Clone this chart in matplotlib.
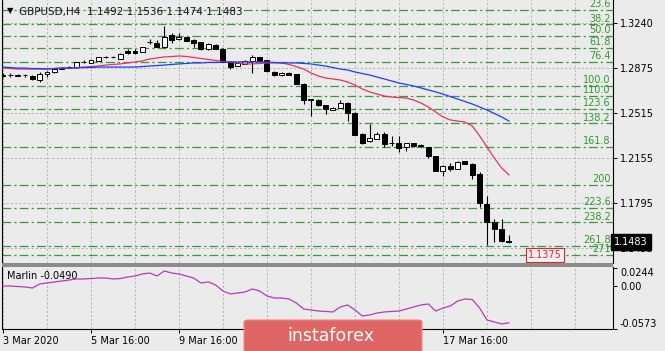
import matplotlib
matplotlib.use("Agg")
import matplotlib.pyplot as plt
from matplotlib.patches import Rectangle, FancyBboxPatch

# ---------------- data ----------------
opens = [1.2818, 1.2822, 1.2818, 1.2822, 1.2818, 1.2778, 1.2830, 1.2846, 1.2874, 1.2882,
         1.2886, 1.2923, 1.2919, 1.2935, 1.2967, 1.2964, 1.2951, 1.3015, 1.3015, 1.3007,
         1.3087, 1.3083, 1.3051, 1.3144, 1.3111, 1.3127, 1.3107, 1.3087, 1.3031, 1.3067,
         1.3035, 1.2927, 1.2898, 1.2911, 1.2931, 1.2963, 1.2939, 1.2850, 1.2826, 1.2842,
         1.2830, 1.2750, 1.2629, 1.2625, 1.2581, 1.2541, 1.2557, 1.2597, 1.2517, 1.2352,
         1.2292, 1.2308, 1.2352, 1.2276, 1.2272, 1.2240, 1.2272, 1.2256, 1.2240, 1.2171,
         1.2047, 1.2091, 1.2067, 1.2131, 1.2107, 1.2023, 1.1786, 1.1637, 1.1585, 1.1492]
highs = [1.2838, 1.2838, 1.2830, 1.2834, 1.2822, 1.2846, 1.2854, 1.2878, 1.2886, 1.2894,
         1.2927, 1.2939, 1.2943, 1.2967, 1.2971, 1.2971, 1.2995, 1.3035, 1.3031, 1.3051,
         1.3111, 1.3103, 1.3212, 1.3156, 1.3160, 1.3131, 1.3115, 1.3091, 1.3079, 1.3071,
         1.3039, 1.2931, 1.2927, 1.2939, 1.2983, 1.2967, 1.2943, 1.2854, 1.2850, 1.2846,
         1.2834, 1.2754, 1.2633, 1.2629, 1.2585, 1.2565, 1.2621, 1.2605, 1.2521, 1.2356,
         1.2428, 1.2364, 1.2364, 1.2332, 1.2332, 1.2276, 1.2276, 1.2264, 1.2244, 1.2175,
         1.2095, 1.2111, 1.2131, 1.2135, 1.2111, 1.2039, 1.1850, 1.1669, 1.1669, 1.1536]
lows = [1.2806, 1.2806, 1.2814, 1.2810, 1.2782, 1.2766, 1.2806, 1.2842, 1.2870, 1.2878,
        1.2878, 1.2915, 1.2915, 1.2931, 1.2959, 1.2959, 1.2947, 1.2991, 1.2991, 1.3003,
        1.3071, 1.3047, 1.3039, 1.3079, 1.3107, 1.3095, 1.3047, 1.3027, 1.3023, 1.3031,
        1.2923, 1.2870, 1.2894, 1.2907, 1.2838, 1.2923, 1.2846, 1.2814, 1.2818, 1.2822,
        1.2746, 1.2589, 1.2493, 1.2577, 1.2509, 1.2537, 1.2553, 1.2452, 1.2340, 1.2268,
        1.2284, 1.2304, 1.2244, 1.2252, 1.2203, 1.2215, 1.2244, 1.2244, 1.2159, 1.2047,
        1.2007, 1.2047, 1.2063, 1.2103, 1.1986, 1.1761, 1.1456, 1.1484, 1.1478, 1.1474]
closes = [1.2826, 1.2823, 1.2826, 1.2821, 1.2786, 1.2834, 1.2850, 1.2874, 1.2878, 1.2886,
          1.2923, 1.2927, 1.2939, 1.2963, 1.2964, 1.2967, 1.2991, 1.2999, 1.2999, 1.3047,
          1.3085, 1.3051, 1.3127, 1.3103, 1.3131, 1.3099, 1.3083, 1.3031, 1.3075, 1.3035,
          1.2927, 1.2890, 1.2919, 1.2935, 1.2967, 1.2931, 1.2854, 1.2822, 1.2842, 1.2826,
          1.2750, 1.2625, 1.2625, 1.2581, 1.2545, 1.2557, 1.2597, 1.2517, 1.2344, 1.2272,
          1.2316, 1.2352, 1.2268, 1.2272, 1.2236, 1.2272, 1.2248, 1.2252, 1.2175, 1.2051,
          1.2091, 1.2067, 1.2127, 1.2107, 1.2019, 1.1794, 1.1641, 1.1585, 1.1490, 1.1483]
ma_red = [1.2878, 1.2874, 1.2870, 1.2870, 1.2870, 1.2870, 1.2870, 1.2874, 1.2878, 1.2878,
          1.2882, 1.2886, 1.2890, 1.2894, 1.2902, 1.2907, 1.2911, 1.2919, 1.2927, 1.2935,
          1.2951, 1.2959, 1.2967, 1.2971, 1.2975, 1.2971, 1.2963, 1.2955, 1.2947, 1.2939,
          1.2931, 1.2927, 1.2919, 1.2911, 1.2911, 1.2915, 1.2919, 1.2919, 1.2919, 1.2907,
          1.2890, 1.2870, 1.2838, 1.2814, 1.2798, 1.2790, 1.2782, 1.2766, 1.2742, 1.2710,
          1.2686, 1.2669, 1.2653, 1.2645, 1.2641, 1.2637, 1.2621, 1.2597, 1.2565, 1.2525,
          1.2485, 1.2461, 1.2452, 1.2444, 1.2412, 1.2332, 1.2244, 1.2155, 1.2075, 1.2019]
ma_blue = [1.2886, 1.2882, 1.2878, 1.2878, 1.2874, 1.2874, 1.2870, 1.2874, 1.2878, 1.2878,
           1.2878, 1.2882, 1.2882, 1.2886, 1.2886, 1.2886, 1.2886, 1.2886, 1.2886, 1.2890,
           1.2894, 1.2898, 1.2902, 1.2907, 1.2911, 1.2915, 1.2919, 1.2919, 1.2923, 1.2923,
           1.2927, 1.2927, 1.2927, 1.2927, 1.2927, 1.2927, 1.2927, 1.2923, 1.2919, 1.2919,
           1.2919, 1.2915, 1.2911, 1.2902, 1.2894, 1.2882, 1.2870, 1.2862, 1.2846, 1.2834,
           1.2822, 1.2806, 1.2790, 1.2774, 1.2758, 1.2746, 1.2734, 1.2718, 1.2702, 1.2686,
           1.2669, 1.2649, 1.2629, 1.2609, 1.2589, 1.2565, 1.2541, 1.2513, 1.2485, 1.2452]
marlin = [0.0003, 0.0003, -0.0004, -0.0010, -0.0024, 0.0030, 0.0043, 0.0057, 0.0070, 0.0083,
          0.0097, 0.0097, 0.0103, 0.0110, 0.0110, 0.0097, 0.0103, 0.0123, 0.0137, 0.0164,
          0.0177, 0.0137, 0.0204, 0.0177, 0.0164, 0.0137, 0.0110, 0.0043, 0.0057, 0.0016,
          -0.0064, -0.0104, -0.0091, -0.0077, -0.0037, -0.0064, -0.0131, -0.0158, -0.0158, -0.0171,
          -0.0225, -0.0305, -0.0318, -0.0332, -0.0338, -0.0345, -0.0278, -0.0251, -0.0318, -0.0399,
          -0.0385, -0.0359, -0.0345, -0.0338, -0.0332, -0.0305, -0.0278, -0.0251, -0.0238, -0.0332,
          -0.0292, -0.0265, -0.0198, -0.0171, -0.0178, -0.0292, -0.0452, -0.0479, -0.0506, -0.0490]

# tick labels hidden under the watermark in the reference are left blank
xtick_idx = [0, 12, 24, 36, 48, 60]
xtick_labels = ["3 Mar 2020", "5 Mar 16:00", "9 Mar 16:00", "", "", "17 Mar 16:00"]
price_ticks = [1.3240, 1.2875, 1.2515, 1.2155, 1.1795, 1.1435]
marlin_ticks = [0.0244, 0.00, -0.0573]
marlin_tick_labels = ["0.0244", "0.00", "-0.0573"]

fib_levels = [23.6, 38.2, 50.0, 61.8, 76.4, 100.0, 110.0, 123.6, 138.2, 161.8, 200, 223.6, 238.2, 261.8, 271]
fib_labels = ["23.6", "38.2", "50.0", "61.8", "76.4", "100.0", "110.0", "123.6", "138.2",
              "161.8", "200", "223.6", "238.2", "261.8", "271"]
fib_price_0 = 1.3533
fib_price_100 = 1.2737

last_price = 1.1483
level_price = 1.1375
title = "GBPUSD,H4  1.1492 1.1536 1.1474 1.1483"
marlin_title = "Marlin -0.0490"

# ---------------- layout ----------------
W, H = 665, 351
BG = "#ebebeb"
fig = plt.figure(figsize=(W / 100, H / 100), dpi=100, facecolor=BG)

px = 7.333  # pixels per bar
x_left, x_right = 2, 613
xlim = ((x_left - 3) / px, (x_right - 3) / px)

ax = fig.add_axes([x_left / W, 1 - 263 / H, (x_right - x_left) / W, 263 / H])
ax2 = fig.add_axes([x_left / W, 1 - 329 / H, (x_right - x_left) / W, (329 - 267) / H])
for a in (ax, ax2):
    a.set_facecolor(BG)
    a.set_xlim(*xlim)
    for s in a.spines.values():
        s.set_color("black")
        s.set_linewidth(0.8)

pp = 0.036 / 44.8
ax.set_ylim(1.3240 - (263 - 23) * pp, 1.3240 + 23 * pp)
mp = 0.0817 / 61
ax2.set_ylim(-0.0573, 0.0244 + 1 * mp)

ax.spines["top"].set_visible(False)
ax.spines["bottom"].set_visible(False)
ax2.spines["top"].set_visible(False)

grid_kw = dict(color="#aaaaaa", lw=0.6, dashes=(2.5, 2.5), zorder=1)
for i in range(0, 84, 6):
    ax.axvline(i, **grid_kw)
    ax2.axvline(i, **grid_kw)
for p in price_ticks:
    ax.axhline(p, **grid_kw)

# fibo levels
fib_color = "#3a9a3a"
for lvl, lab in zip(fib_levels, fib_labels):
    price = fib_price_0 - (fib_price_0 - fib_price_100) * lvl / 100.0
    ax.axhline(price, color=fib_color, lw=0.9, dashes=(7, 2.5, 1.8, 2.5), zorder=2)
    ax.text(0.9965, price + 0.0007, lab, transform=ax.get_yaxis_transform(),
            ha="right", va="bottom", fontsize=7, color="#2f9a2f", zorder=2, clip_on=False)

# candles
for i, (o, h, l, c) in enumerate(zip(opens, highs, lows, closes)):
    ax.vlines(i, l, h, color="black", lw=0.8, zorder=3)
    bottom = min(o, c)
    height = max(abs(c - o), 0.00012)
    fc = "white" if c > o else "black"
    ax.bar(i, height, bottom=bottom, width=0.68, color=fc, edgecolor="black", lw=0.7, zorder=4)

idx = list(range(len(closes)))
ax.plot(idx, ma_red, color="#e8325f", lw=0.9, zorder=5)
ax.plot(idx, ma_blue, color="#1e3cff", lw=0.9, zorder=5)

# right price axis
ax.yaxis.tick_right()
ax.set_yticks(price_ticks)
ax.set_yticklabels([f"{p:.4f}" for p in price_ticks], fontsize=7)
ax.tick_params(axis="y", length=3, width=0.7, pad=2, colors="black")
ax.set_xticks([])

# last price black label
ax.text(1.002, last_price, f"{last_price:.4f}", transform=ax.get_yaxis_transform(),
        ha="left", va="center", fontsize=7, color="white", zorder=10, clip_on=False,
        bbox=dict(boxstyle="square,pad=0.3", fc="black", ec="black"))

# level label (red box)
ax.text(73.9, level_price, f"{level_price:.4f}", ha="center", va="center", fontsize=7,
        color="#e8202a", zorder=10,
        bbox=dict(boxstyle="square,pad=0.2", fc="#f2f2f2", ec="#e8202a", lw=0.8))

# indicator panel
ax2.plot(idx, marlin, color="#b43cb8", lw=0.9, zorder=5)
ax2.yaxis.tick_right()
ax2.set_yticks(marlin_ticks)
ax2.set_yticklabels(marlin_tick_labels, fontsize=7)
ax2.tick_params(axis="y", length=3, width=0.7, pad=2, colors="black")
lbls = ax2.get_yticklabels()
lbls[0].set_va("top")
lbls[2].set_va("bottom")
ax2.set_xticks(xtick_idx)
ax2.set_xticklabels(xtick_labels, fontsize=7, ha="left")
ax2.tick_params(axis="x", length=3, width=0.7, pad=2, colors="black")
ax2.text(0.008, 0.86, marlin_title, transform=ax2.transAxes, fontsize=7, color="black",
         ha="left", va="center")

# separator between panels
fig.patches.append(Rectangle((x_left / W, 1 - 267 / H), (x_right - x_left) / W, 4 / H,
                             transform=fig.transFigure, fc="#8c8c8c", ec="none", zorder=20))

# title
fig.text(10 / W, 1 - 11 / H, "\u25bc", fontsize=6, ha="center", va="center", color="black")
fig.text(19 / W, 1 - 12.5 / H, title, fontsize=7.5, ha="left", va="center", color="#1a1a1a")

# watermark
fig.patches.append(FancyBboxPatch((244 / W, -5 / H), 178 / W, 36 / H,
                                  boxstyle="round,pad=0,rounding_size=0.006",
                                  transform=fig.transFigure, fc="#e06666", ec="#e88a8a",
                                  lw=0.8, zorder=30))
fig.text(331 / W, 1 - 336 / H, "instaforex", fontsize=12.5, color="white",
         ha="center", va="center", zorder=31)

fig.savefig("out.png", dpi=100, facecolor=BG)
